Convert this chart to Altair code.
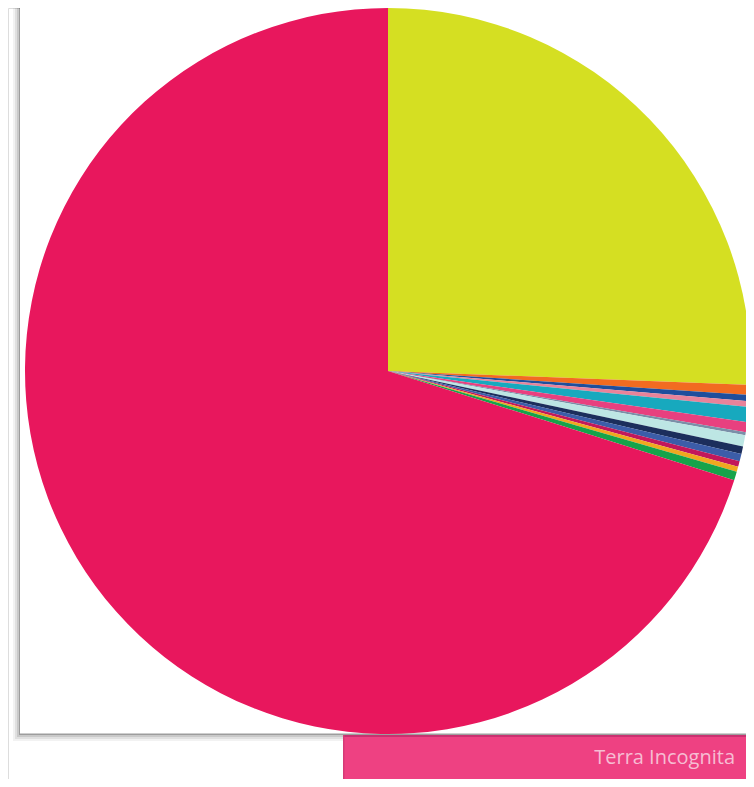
import altair as alt
import pandas as pd

# Slice values (degrees of the full circle), clockwise from 12 o'clock
categories = ["A", "B", "C", "D", "E", "F", "G", "H", "I", "J", "K", "L", "M", "N"]
values = [92.2, 1.6, 1.0, 0.9, 2.4, 1.6, 0.5, 1.8, 1.2, 1.2, 0.9, 0.8, 1.4, 252.5]
colors = ["#D5DF22", "#F26B21", "#1F4E9C", "#E8839A", "#17A9BE", "#E8407F",
          "#7A8FA8", "#BDE6E4", "#1C2E5C", "#3C5DA8", "#C2185B", "#F0A820",
          "#16A34A", "#E8175D"]

df = pd.DataFrame({"cat": categories, "value": values, "order": list(range(len(categories)))})

W, H = 738, 771
one = pd.DataFrame({"k": [0]})


def box(x1, x2, y1, y2, color, opacity=1.0):
    return alt.Chart(one).mark_rect(color=color, opacity=opacity).encode(
        x=alt.value(x1), x2=alt.value(x2), y=alt.value(y1), y2=alt.value(y2))


layers = [
    box(5, 738, 0, 733, "#000000", 0.05),
    box(7, 738, 0, 731, "#000000", 0.07),
    box(9, 738, 0, 729, "#000000", 0.10),
    box(11, 738, 0, 727, "#000000", 0.22),
    box(12, 738, 0, 725.5, "#ffffff"),
    box(335, 738, 727, 771, "#EE4182"),
    box(335, 738, 727, 729, "#c93070"),
    box(335, 336.5, 727, 771, "#d53a76"),
]

label = alt.Chart(one).mark_text(
    text="Terra Incognita", align="right", baseline="alphabetic",
    font="Open Sans", fontSize=20, color="#F6BDD3").encode(
    x=alt.value(727), y=alt.value(756))

pie = alt.Chart(df).mark_arc(radius=363).encode(
    theta=alt.Theta("value:Q", stack=True),
    order=alt.Order("order:Q"),
    color=alt.Color("cat:N", scale=alt.Scale(domain=categories, range=colors), legend=None),
    x=alt.value(380), y=alt.value(363),
)

chart = alt.layer(*layers, pie, label).properties(
    width=W, height=H, padding=0,
    autosize=alt.AutoSizeParams(type="none"),
).configure_view(stroke=None).configure(background="white")

chart.save("out.html", embed_options={"renderer": "svg", "actions": False})
